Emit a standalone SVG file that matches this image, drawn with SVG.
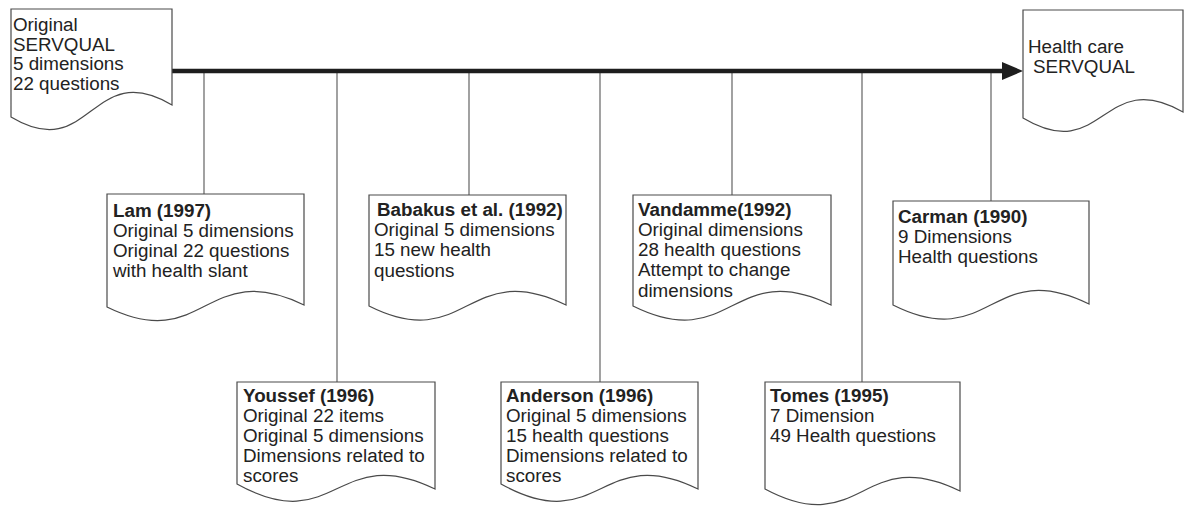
<svg xmlns="http://www.w3.org/2000/svg" width="1187" height="506" viewBox="0 0 1187 506">
<style>
.doc{fill:#fff;stroke:#4a4a4a;stroke-width:1.2}
.c{stroke:#555;stroke-width:1.1;fill:none}
text{font-family:"Liberation Sans",Arial,sans-serif;font-size:18.8px;fill:#222}
.b{font-weight:bold}
</style>
<rect width="1187" height="506" fill="#fff"/>
<g id="connectors">
<line class="c" x1="204" y1="71" x2="204" y2="194"/>
<line class="c" x1="337" y1="71" x2="337" y2="382"/>
<line class="c" x1="469" y1="71" x2="469" y2="195"/>
<line class="c" x1="600" y1="71" x2="600" y2="382"/>
<line class="c" x1="732" y1="71" x2="732" y2="195"/>
<line class="c" x1="862" y1="71" x2="862" y2="382"/>
<line class="c" x1="991" y1="71" x2="991" y2="201"/>
<line x1="171" y1="71" x2="1004" y2="71" stroke="#1e1e1e" stroke-width="4.5" stroke-linecap="round"/>
<polygon points="1002,62 1023,71 1002,80" fill="#1e1e1e"/>
</g>
<g id="original">
<path class="doc" d="M11,9 H172 V105 C91,57 91,165 11,117 Z"/>
<text x="13" y="31">Original</text>
<text x="13" y="50.5">SERVQUAL</text>
<text x="13" y="70">5 dimensions</text>
<text x="13" y="89.5">22 questions</text>
</g>
<g id="healthcare">
<path class="doc" d="M1023,10 H1183 V112 C1103,66 1103,166 1023,118 Z"/>
<text x="1028" y="53">Health care</text>
<text x="1033" y="73">SERVQUAL</text>
</g>
<g id="lam">
<path class="doc" d="M107,194 H304 V305 C205,257 205,355 107,307 Z"/>
<text class="b" x="113" y="217">Lam (1997)</text>
<text x="113" y="237">Original 5 dimensions</text>
<text x="113" y="257">Original 22 questions</text>
<text x="113" y="277">with health slant</text>
</g>
<g id="babakus">
<path class="doc" d="M369,195 H566 V305 C467,257 467,355 369,306 Z"/>
<text class="b" x="377" y="216">Babakus et al. (1992)</text>
<text x="374" y="236">Original 5 dimensions</text>
<text x="374" y="256">15 new health</text>
<text x="374" y="277">questions</text>
</g>
<g id="vandamme">
<path class="doc" d="M633,195 H831 V305 C732,257 732,355 633,306 Z"/>
<text class="b" x="638" y="216">Vandamme(1992)</text>
<text x="638" y="236">Original dimensions</text>
<text x="638" y="256">28 health questions</text>
<text x="638" y="276">Attempt to change</text>
<text x="638" y="297">dimensions</text>
</g>
<g id="carman">
<path class="doc" d="M893,201 H1089 V304 C991,256 991,354 893,305 Z"/>
<text class="b" x="898" y="223">Carman (1990)</text>
<text x="898" y="243">9 Dimensions</text>
<text x="898" y="263">Health questions</text>
</g>
<g id="youssef">
<path class="doc" d="M237,382 H435 V489 C336,441 336,539 237,484 Z"/>
<text class="b" x="243" y="402">Youssef (1996)</text>
<text x="243" y="422">Original 22 items</text>
<text x="243" y="442">Original 5 dimensions</text>
<text x="243" y="462">Dimensions related to</text>
<text x="243" y="482">scores</text>
</g>
<g id="anderson">
<path class="doc" d="M501,382 H698 V489 C600,441 600,539 501,484 Z"/>
<text class="b" x="506" y="402">Anderson (1996)</text>
<text x="506" y="422">Original 5 dimensions</text>
<text x="506" y="442">15 health questions</text>
<text x="506" y="462">Dimensions related to</text>
<text x="506" y="482">scores</text>
</g>
<g id="tomes">
<path class="doc" d="M765,382 H960 V491 C862,443 862,541 765,489 Z"/>
<text class="b" x="770" y="402">Tomes (1995)</text>
<text x="770" y="422">7 Dimension</text>
<text x="770" y="442">49 Health questions</text>
</g>
</svg>
